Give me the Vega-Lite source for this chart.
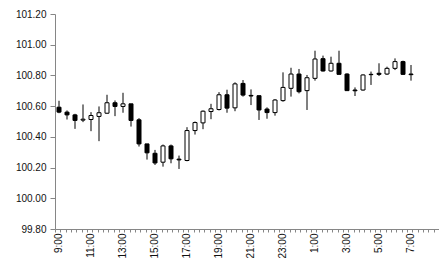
{
  "$schema": "https://vega.github.io/schema/vega-lite/v6.json",
  "autosize": {"type": "none"},
  "width": 384,
  "height": 215,
  "padding": {"left": 55, "top": 14, "right": 0, "bottom": 32},
  "background": "white",
  "config": {
    "view": {"stroke": null},
    "axis": {
      "labelFont": "Liberation Sans",
      "labelFontSize": 10,
      "labelColor": "#111111",
      "domainColor": "#868686",
      "tickColor": "#868686",
      "grid": false
    },
    "axisY": {"labelOverlap": false}
  },
  "data": {
    "values": [
      {"t": "9:00", "open": 100.593, "high": 100.635, "low": 100.554, "close": 100.561},
      {"t": "9:30", "open": 100.561, "high": 100.572, "low": 100.513, "close": 100.543},
      {"t": "10:00", "open": 100.543, "high": 100.550, "low": 100.452, "close": 100.507},
      {"t": "10:30", "open": 100.509, "high": 100.611, "low": 100.496, "close": 100.515},
      {"t": "11:00", "open": 100.513, "high": 100.561, "low": 100.437, "close": 100.539},
      {"t": "11:30", "open": 100.533, "high": 100.598, "low": 100.372, "close": 100.557},
      {"t": "12:00", "open": 100.554, "high": 100.674, "low": 100.550, "close": 100.622},
      {"t": "12:30", "open": 100.622, "high": 100.637, "low": 100.535, "close": 100.598},
      {"t": "13:00", "open": 100.598, "high": 100.687, "low": 100.557, "close": 100.615},
      {"t": "13:30", "open": 100.615, "high": 100.615, "low": 100.467, "close": 100.507},
      {"t": "14:00", "open": 100.511, "high": 100.522, "low": 100.337, "close": 100.354},
      {"t": "14:30", "open": 100.354, "high": 100.354, "low": 100.252, "close": 100.296},
      {"t": "15:00", "open": 100.293, "high": 100.315, "low": 100.217, "close": 100.230},
      {"t": "15:30", "open": 100.235, "high": 100.350, "low": 100.206, "close": 100.341},
      {"t": "16:00", "open": 100.341, "high": 100.350, "low": 100.228, "close": 100.257},
      {"t": "16:30", "open": 100.255, "high": 100.278, "low": 100.191, "close": 100.250},
      {"t": "17:00", "open": 100.246, "high": 100.463, "low": 100.241, "close": 100.441},
      {"t": "17:30", "open": 100.441, "high": 100.500, "low": 100.415, "close": 100.493},
      {"t": "18:00", "open": 100.491, "high": 100.572, "low": 100.450, "close": 100.567},
      {"t": "18:30", "open": 100.565, "high": 100.615, "low": 100.515, "close": 100.583},
      {"t": "19:00", "open": 100.578, "high": 100.691, "low": 100.572, "close": 100.674},
      {"t": "19:30", "open": 100.674, "high": 100.707, "low": 100.557, "close": 100.587},
      {"t": "20:00", "open": 100.589, "high": 100.755, "low": 100.567, "close": 100.745},
      {"t": "20:30", "open": 100.748, "high": 100.770, "low": 100.662, "close": 100.672},
      {"t": "21:00", "open": 100.670, "high": 100.709, "low": 100.607, "close": 100.666},
      {"t": "21:30", "open": 100.668, "high": 100.668, "low": 100.510, "close": 100.575},
      {"t": "22:00", "open": 100.581, "high": 100.592, "low": 100.518, "close": 100.558},
      {"t": "22:30", "open": 100.558, "high": 100.646, "low": 100.538, "close": 100.640},
      {"t": "23:00", "open": 100.636, "high": 100.820, "low": 100.629, "close": 100.722},
      {"t": "23:30", "open": 100.716, "high": 100.850, "low": 100.662, "close": 100.809},
      {"t": "0:00", "open": 100.809, "high": 100.842, "low": 100.683, "close": 100.694},
      {"t": "0:30", "open": 100.701, "high": 100.803, "low": 100.575, "close": 100.785},
      {"t": "1:00", "open": 100.781, "high": 100.961, "low": 100.766, "close": 100.907},
      {"t": "1:30", "open": 100.909, "high": 100.929, "low": 100.825, "close": 100.829},
      {"t": "2:00", "open": 100.829, "high": 100.922, "low": 100.825, "close": 100.879},
      {"t": "2:30", "open": 100.879, "high": 100.961, "low": 100.807, "close": 100.807},
      {"t": "3:00", "open": 100.809, "high": 100.814, "low": 100.701, "close": 100.701},
      {"t": "3:30", "open": 100.705, "high": 100.722, "low": 100.666, "close": 100.700},
      {"t": "4:00", "open": 100.705, "high": 100.807, "low": 100.701, "close": 100.803},
      {"t": "4:30", "open": 100.807, "high": 100.825, "low": 100.738, "close": 100.805},
      {"t": "5:00", "open": 100.814, "high": 100.879, "low": 100.796, "close": 100.807},
      {"t": "5:30", "open": 100.809, "high": 100.857, "low": 100.803, "close": 100.846},
      {"t": "6:00", "open": 100.846, "high": 100.911, "low": 100.835, "close": 100.890},
      {"t": "6:30", "open": 100.890, "high": 100.896, "low": 100.803, "close": 100.807},
      {"t": "7:00", "open": 100.809, "high": 100.868, "low": 100.766, "close": 100.805}
    ]
  },
  "resolve": {"scale": {"x": "independent"}, "axis": {"x": "independent"}},
  "layer": [
    {
      "mark": {"type": "rule", "color": "black", "strokeWidth": 1},
      "encoding": {
        "x": {
          "field": "t",
          "type": "ordinal",
          "title": null,
          "scale": {
            "domain": ["9:00", "9:30", "10:00", "10:30", "11:00", "11:30", "12:00", "12:30", "13:00", "13:30", "14:00", "14:30", "15:00", "15:30", "16:00", "16:30", "17:00", "17:30", "18:00", "18:30", "19:00", "19:30", "20:00", "20:30", "21:00", "21:30", "22:00", "22:30", "23:00", "23:30", "0:00", "0:30", "1:00", "1:30", "2:00", "2:30", "3:00", "3:30", "4:00", "4:30", "5:00", "5:30", "6:00", "6:30", "7:00", "7:30", "8:00", "8:30"],
            "paddingInner": 0,
            "paddingOuter": 0
          },
          "axis": {
            "orient": "bottom",
            "values": ["9:00", "11:00", "13:00", "15:00", "17:00", "19:00", "21:00", "23:00", "1:00", "3:00", "5:00", "7:00"],
            "labelAngle": 270,
            "labelOverlap": false,
            "ticks": false,
            "labelPadding": 4
          }
        },
        "y": {
          "field": "low",
          "type": "quantitative",
          "title": null,
          "scale": {"domain": [99.8, 101.2], "nice": false, "zero": false},
          "axis": {
            "values": [99.8, 100.0, 100.2, 100.4, 100.6, 100.8, 101.0, 101.2],
            "format": ".2f",
            "labelOverlap": false,
            "tickSize": 5,
            "labelPadding": 4
          }
        },
        "y2": {"field": "high"}
      }
    },
    {
      "mark": {"type": "bar", "width": 4, "stroke": "black", "strokeWidth": 1},
      "encoding": {
        "x": {
          "field": "t",
          "type": "ordinal",
          "scale": {
            "domain": ["9:00", "9:30", "10:00", "10:30", "11:00", "11:30", "12:00", "12:30", "13:00", "13:30", "14:00", "14:30", "15:00", "15:30", "16:00", "16:30", "17:00", "17:30", "18:00", "18:30", "19:00", "19:30", "20:00", "20:30", "21:00", "21:30", "22:00", "22:30", "23:00", "23:30", "0:00", "0:30", "1:00", "1:30", "2:00", "2:30", "3:00", "3:30", "4:00", "4:30", "5:00", "5:30", "6:00", "6:30", "7:00", "7:30", "8:00", "8:30"],
            "paddingInner": 0,
            "paddingOuter": 0
          },
          "axis": null
        },
        "y": {
          "field": "open",
          "type": "quantitative",
          "title": null,
          "axis": {
            "values": [99.8, 100.0, 100.2, 100.4, 100.6, 100.8, 101.0, 101.2],
            "format": ".2f",
            "labelOverlap": false,
            "tickSize": 5,
            "labelPadding": 4
          }
        },
        "y2": {"field": "close"},
        "fill": {
          "condition": {"test": "datum.close > datum.open", "value": "white"},
          "value": "black"
        }
      }
    },
    {
      "mark": {"type": "rule", "opacity": 0, "clip": true},
      "encoding": {
        "x": {
          "field": "low",
          "type": "quantitative",
          "title": null,
          "scale": {"domain": [0, 72], "nice": false, "zero": false},
          "axis": {
            "orient": "bottom",
            "values": [0, 1, 2, 3, 4, 5, 6, 7, 8, 9, 10, 11, 12, 13, 14, 15, 16, 17, 18, 19, 20, 21, 22, 23, 24, 25, 26, 27, 28, 29, 30, 31, 32, 33, 34, 35, 36, 37, 38, 39, 40, 41, 42, 43, 44, 45, 46, 47, 48, 49, 50, 51, 52, 53, 54, 55, 56, 57, 58, 59, 60, 61, 62, 63, 64, 65, 66, 67, 68, 69, 70, 71, 72],
            "labels": false,
            "domain": false,
            "tickSize": 3
          }
        }
      }
    }
  ]
}
